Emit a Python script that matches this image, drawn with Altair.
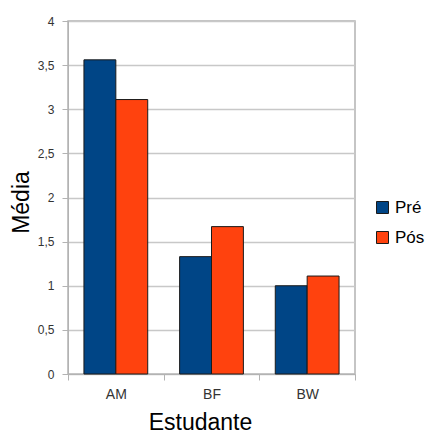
import altair as alt
import pandas as pd

estudantes = ["AM", "BF", "BW"]
pre = [3.56, 1.33, 1.00]
pos = [3.11, 1.67, 1.11]
grupos = ["Pré", "Pós"]
cores = ["#004586", "#ff420e"]
y_ticks = [0, 0.5, 1, 1.5, 2, 2.5, 3, 3.5, 4]

rows = []
for e, a, b in zip(estudantes, pre, pos):
    rows.append({"Estudante": e, "Momento": "Pré", "Média": a})
    rows.append({"Estudante": e, "Momento": "Pós", "Média": b})
df = pd.DataFrame(rows)

FONT = "Liberation Sans"

chart = alt.Chart(df).mark_bar(stroke="#1a1a1a", strokeWidth=1).encode(
    x=alt.X("Estudante:N", sort=estudantes,
            scale=alt.Scale(paddingInner=0, paddingOuter=0),
            axis=alt.Axis(title="Estudante", labelAngle=0, tickBand="extent",
                          labelFontSize=14, labelColor="#333333", labelFont=FONT,
                          labelPadding=7, tickSize=6, tickColor="#b3b3b3",
                          domainColor="#b3b3b3", grid=False,
                          titleFontSize=23, titleFont=FONT, titleFontWeight="normal",
                          titleColor="#000000", titleX=132, titleY=55,
                          titleAlign="center", titleBaseline="alphabetic")),
    xOffset=alt.XOffset("Momento:N", sort=grupos,
                        scale=alt.Scale(paddingInner=0, paddingOuter=0.5)),
    y=alt.Y("Média:Q", scale=alt.Scale(domain=[0, 4], nice=False),
            axis=alt.Axis(title="Média", values=y_ticks,
                          labelExpr="replace(toString(datum.value), '.', ',')",
                          labelFontSize=12, labelColor="#333333", labelFont=FONT,
                          labelPadding=8, tickSize=6, tickColor="#b3b3b3",
                          domainColor="#b3b3b3", gridColor="#c8c8c8", gridWidth=1.5,
                          titleFontSize=23, titleFont=FONT, titleFontWeight="normal",
                          titleColor="#000000", titleAngle=-90, titleX=-40, titleY=181,
                          titleAlign="center", titleBaseline="alphabetic")),
    color=alt.Color("Momento:N", sort=grupos,
                    scale=alt.Scale(domain=grupos, range=cores),
                    legend=alt.Legend(title=None, orient="none", legendX=306, legendY=178,
                                      symbolType="square", symbolSize=144,
                                      symbolStrokeColor="#1a1a1a", symbolStrokeWidth=1,
                                      symbolOpacity=1,
                                      labelFontSize=17, labelFont=FONT, labelColor="#000000",
                                      labelOffset=4, rowPadding=12, padding=0)),
).properties(
    width=287, height=353,
    autosize=alt.AutoSizeParams(type="none"),
    padding={"left": 68, "top": 21, "right": 77, "bottom": 61},
).configure_view(stroke="#b3b3b3", strokeWidth=1.5)

chart.save("out.html", embed_options={"renderer": "svg", "actions": False})
